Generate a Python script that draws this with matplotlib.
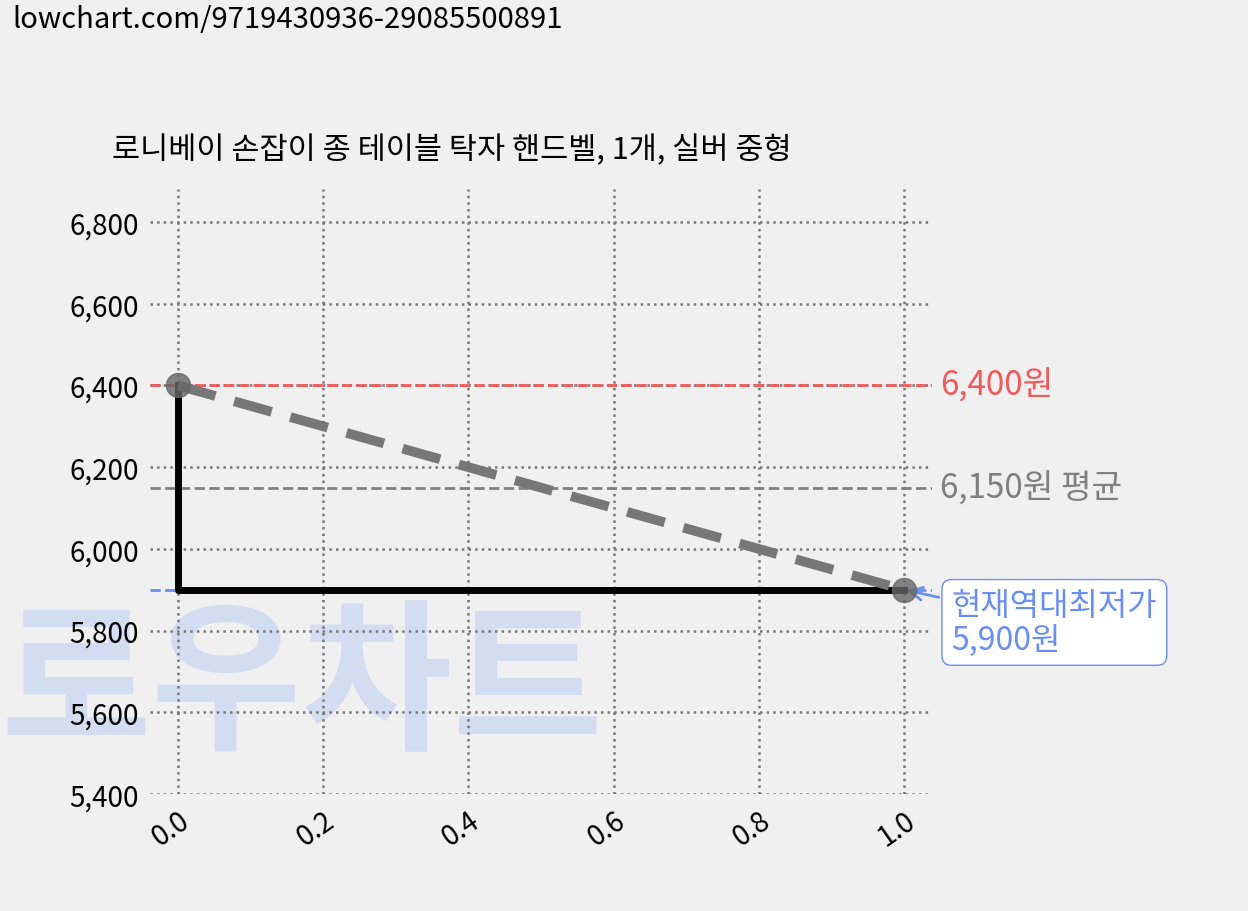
import matplotlib
matplotlib.use("Agg")
import matplotlib.pyplot as plt

plt.rcParams['font.family'] = ['Noto Sans CJK KR', 'DejaVu Sans']

title = "로니베이 손잡이 종 테이블 탁자 핸드벨, 1개, 실버 중형"
x = [0.0, 1.0]
prices = [6400, 5900]
max_price = 6400
avg_price = 6150
min_price = 5900
yticks = [5400, 5600, 5800, 6000, 6200, 6400, 6600, 6800]
xticks = [0.0, 0.2, 0.4, 0.6, 0.8, 1.0]

bg = '#f0f0f0'
fig = plt.figure(figsize=(12.48, 9.12), dpi=100, facecolor=bg)
ax = fig.add_axes([150/1248, 1-795/912, (932-150)/1248, (795-190)/912], facecolor='none')

fig.text(0.01, 0.995, "lowchart.com/9719430936-29085500891", fontsize=21, va='top', ha='left')
fig.text(0.09, 0.835, title, fontsize=22, va='center', ha='left')
fig.text(0.0, 0.245, "로우차트", fontsize=118, fontweight='black', color='#d3ddf2',
         va='center', ha='left', zorder=-1)

ax.grid(True, linestyle=':', color='#777777', linewidth=1.8)
for s in ax.spines.values():
    s.set_visible(False)
ax.tick_params(length=0, labelsize=20, pad=8)
ax.set_yticks(yticks)
ax.set_yticklabels([f"{v:,}" for v in yticks])
ax.set_xticks(xticks)
ax.set_xticklabels([f"{v:.1f}" for v in xticks], rotation=35, ha='right', rotation_mode='anchor')
ax.set_xlim(-0.0386, 1.0386)
ax.set_ylim(5400, 6881)

ax.axhline(max_price, color='#f05a5a', linestyle='--', linewidth=2)
ax.axhline(avg_price, color='#808080', linestyle='--', linewidth=2)
ax.axhline(min_price, color='#6a8ff0', linestyle='--', linewidth=2)

ax.step(x, prices, where='pre', color='black', linewidth=5)
ax.plot(x, prices, color='#777777', linestyle='--', linewidth=7, dashes=(4, 2))
ax.scatter(x, prices, s=300, color='#666666', alpha=0.8, zorder=5)

tr = ax.get_yaxis_transform()
ax.text(1.01, max_price, "6,400원", color='#f05a5a', fontsize=24, va='center', transform=tr, clip_on=False)
ax.text(1.01, avg_price, "6,150원 평균", color='#808080', fontsize=24, va='center', transform=tr, clip_on=False)
ax.annotate("현재역대최저가\n5,900원", xy=(1.0, min_price), xytext=(1.025, 5820),
            textcoords=tr, color='#6a8ff0', fontsize=23, va='center', linespacing=1.1,
            bbox=dict(boxstyle='round,pad=0.3', fc='white', ec='#6a8ff0'),
            arrowprops=dict(arrowstyle='->', color='#6a8ff0', lw=2), annotation_clip=False)

fig.savefig("out.png", facecolor=bg)
